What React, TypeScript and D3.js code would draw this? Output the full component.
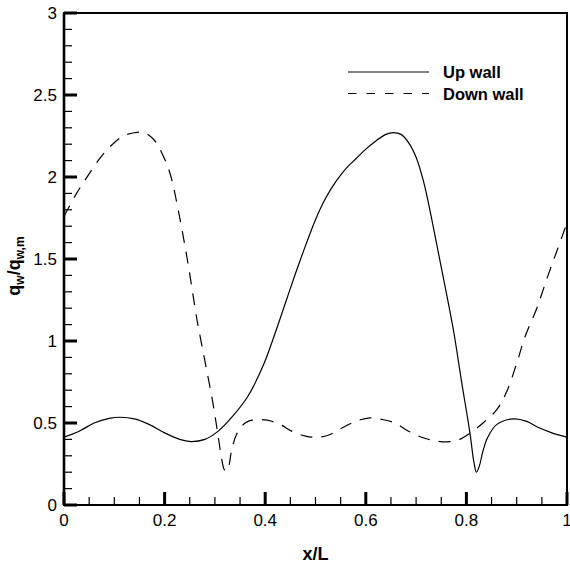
import React from "react";
import * as d3 from "d3";

const upX = [0, 0.03, 0.06, 0.09, 0.112, 0.14, 0.17, 0.2, 0.23, 0.252, 0.28, 0.306, 0.335, 0.365, 0.396, 0.42, 0.44, 0.46, 0.48, 0.5, 0.52, 0.54, 0.56, 0.58, 0.6, 0.62, 0.64, 0.655, 0.67, 0.685, 0.7, 0.715, 0.73, 0.75, 0.774, 0.79, 0.807, 0.815, 0.82, 0.826, 0.833, 0.842, 0.86, 0.893, 0.92, 0.94, 0.97, 1.0];
const upY = [0.414, 0.45, 0.5, 0.528, 0.535, 0.525, 0.49, 0.44, 0.4, 0.387, 0.4, 0.449, 0.54, 0.66, 0.85, 1.05, 1.23, 1.41, 1.58, 1.74, 1.87, 1.97, 2.05, 2.11, 2.17, 2.22, 2.26, 2.27, 2.26, 2.21, 2.12, 1.97, 1.76, 1.45, 1.07, 0.76, 0.44, 0.26, 0.2, 0.24, 0.33, 0.41, 0.49, 0.525, 0.51, 0.477, 0.44, 0.414];

const downX = [0, 0.025, 0.048, 0.078, 0.115, 0.14, 0.16, 0.178, 0.194, 0.211, 0.227, 0.245, 0.265, 0.28, 0.295, 0.305, 0.313, 0.318, 0.322, 0.327, 0.333, 0.343, 0.36, 0.378, 0.406, 0.43, 0.455, 0.48, 0.502, 0.525, 0.55, 0.58, 0.608, 0.635, 0.658, 0.685, 0.714, 0.74, 0.767, 0.79, 0.807, 0.833, 0.86, 0.88, 0.9, 0.9165, 0.94, 0.96, 0.98, 1.0];
const downY = [1.76, 1.9, 2.01, 2.14, 2.245, 2.27, 2.27, 2.23, 2.15, 2.02, 1.8, 1.5, 1.12, 0.88, 0.64, 0.45, 0.29, 0.22, 0.206, 0.23, 0.33, 0.43, 0.5, 0.52, 0.516, 0.49, 0.447, 0.42, 0.413, 0.425, 0.465, 0.51, 0.531, 0.52, 0.5, 0.45, 0.41, 0.39, 0.386, 0.405, 0.437, 0.5, 0.58, 0.69, 0.864, 1.026, 1.2, 1.38, 1.55, 1.72];

const xTicks = [0, 0.2, 0.4, 0.6, 0.8, 1];
const xTickLabels = ["0", "0.2", "0.4", "0.6", "0.8", "1"];
const yTicks = [0, 0.5, 1, 1.5, 2, 2.5, 3];
const yTickLabels = ["0", "0.5", "1", "1.5", "2", "2.5", "3"];
const seriesNames = ["Up wall", "Down wall"];

const W = 570, H = 565;
const L = 64, R = 567, T = 13, B = 505;

export default function App() {
  const x = d3.scaleLinear().domain([0, 1]).range([L, R]);
  const y = d3.scaleLinear().domain([0, 3]).range([B, T]);
  const line = d3
    .line<[number, number]>()
    .x((d) => x(d[0]))
    .y((d) => y(d[1]))
    .curve(d3.curveCatmullRom.alpha(0.5));
  const up = upX.map((v, i) => [v, upY[i]] as [number, number]);
  const down = downX.map((v, i) => [v, downY[i]] as [number, number]);
  const xMinor = d3.range(1, 20).map((k) => k / 20).filter((v, k) => (k + 1) % 4 !== 0);
  const yMinor = d3.range(1, 30).map((k) => k / 10).filter((v, k) => (k + 1) % 5 !== 0);
  const font = "'Liberation Sans', Arial, sans-serif";
  return (
    <svg width={W} height={H} style={{ position: "absolute", left: 0, top: 0 }} fontFamily={font}>
      <rect x={0} y={0} width={W} height={H} fill="#fff" />
      <defs>
        <clipPath id="plotclip">
          <rect x={L} y={T} width={R - L} height={B - T} />
        </clipPath>
      </defs>
      <g clipPath="url(#plotclip)" fill="none" stroke="#000">
        <path d={line(up) || ""} strokeWidth={1.2} />
        <path d={line(down) || ""} strokeWidth={1.2} strokeDasharray="12,9" />
      </g>
      <rect x={L} y={T} width={R - L} height={B - T} fill="none" stroke="#000" strokeWidth={2} />
      <rect x={L - 1.3} y={T} width={2.6} height={B - T} fill="#000" />
      {xTicks.map((t, i) => (
        <rect key={"xM" + i} x={x(t) - 1.5} y={B - 13} width={3} height={13} fill="#000" />
      ))}
      {yTicks.map((t, i) => (
        <rect key={"yM" + i} x={L} y={y(t) - 1.5} width={13} height={3} fill="#000" />
      ))}
      {xMinor.map((t, i) => (
        <rect key={"xm" + i} x={x(t) - 0.6} y={B - 8} width={1.2} height={8} fill="#000" />
      ))}
      {yMinor.map((t, i) => (
        <rect key={"ym" + i} x={L} y={y(t) - 0.6} width={8} height={1.2} fill="#000" />
      ))}
      {xTicks.map((t, i) => (
        <text key={"xl" + i} x={x(t)} y={526} textAnchor="middle" fontSize={17}>
          {xTickLabels[i]}
        </text>
      ))}
      {yTicks.map((t, i) => (
        <text key={"yl" + i} x={57} y={y(t) + 6} textAnchor="end" fontSize={17}>
          {yTickLabels[i]}
        </text>
      ))}
      <text x={(L + R) / 2} y={560} textAnchor="middle" fontSize={18} fontWeight="bold">
        x/L
      </text>
      <text transform="translate(20,266) rotate(-90)" textAnchor="middle" fontSize={18} fontWeight="bold">
        q<tspan fontSize={12} dy={4}>w</tspan>
        <tspan dy={-4}>/q</tspan>
        <tspan fontSize={12} dy={4}>w,m</tspan>
      </text>
      <line x1={348} x2={429} y1={72} y2={72} stroke="#000" strokeWidth={1.2} />
      <line x1={348} x2={429} y1={93.5} y2={93.5} stroke="#000" strokeWidth={1.2} strokeDasharray="8.5,10" />
      <text x={443} y={78} fontSize={16.5} fontWeight="bold">{seriesNames[0]}</text>
      <text x={443} y={99.5} fontSize={16.5} fontWeight="bold">{seriesNames[1]}</text>
    </svg>
  );
}
